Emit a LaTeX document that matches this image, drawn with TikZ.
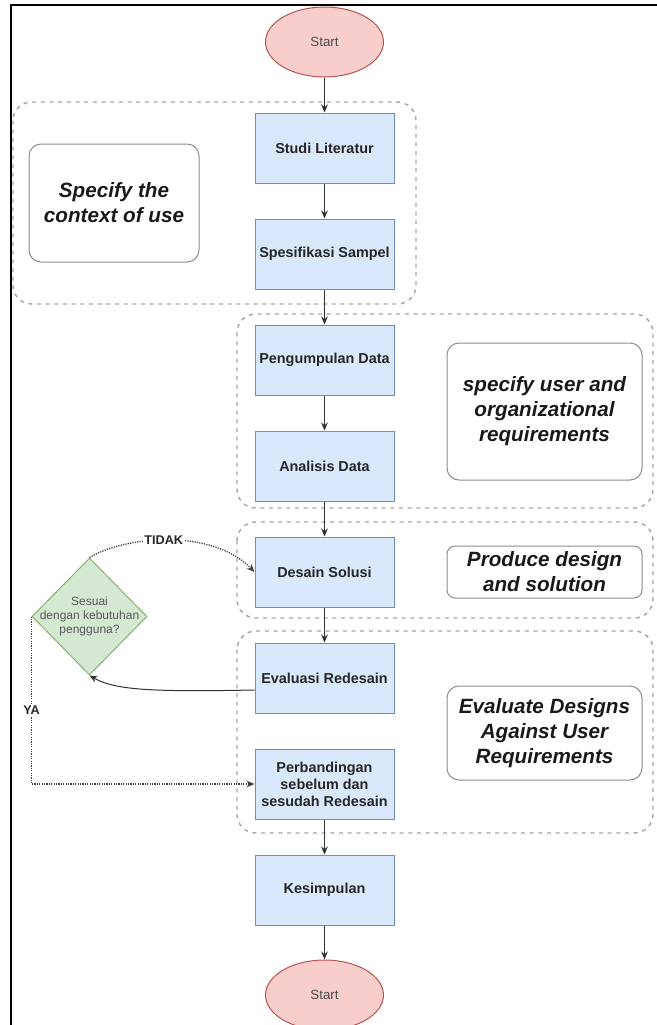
\documentclass[tikz,border=0pt]{standalone}
\usepackage{fontspec}
\setmainfont{Liberation Sans}
\usepackage{xcolor}
\usetikzlibrary{arrows.meta,shapes.geometric,positioning}
\definecolor{procfill}{HTML}{DAE8FC}
\definecolor{procdraw}{HTML}{6C8EBF}
\definecolor{termfill}{HTML}{F8CECC}
\definecolor{termdraw}{HTML}{B85450}
\definecolor{decfill}{HTML}{D5E8D4}
\definecolor{decdraw}{HTML}{82B366}
\tikzset{every picture/.style={line width=0.75pt}}
\tikzset{
proc/.style={draw=procdraw, fill=procfill, minimum width=104.25pt, minimum height=52.5pt, inner sep=0pt, align=center, text=black!85, font=\fontsize{10.8}{12.75}\selectfont\bfseries},
term/.style={ellipse, draw=termdraw, fill=termfill, minimum width=88.5pt, minimum height=52.5pt, inner sep=0pt, text=black!70, font=\fontsize{10}{12}\selectfont},
phase/.style={draw=black!45, rounded corners=9pt, inner sep=0pt, align=center, text=black!90, font=\fontsize{15.5}{18.75}\selectfont\bfseries\itshape},
grp/.style={draw=black!35, line width=1.1pt, dash pattern=on 3pt off 3.5pt, rounded corners=14pt},
flow/.style={draw=black!80, -{Stealth[length=6pt,width=5pt]}},
choice/.style={draw=black!75, line width=1pt, dash pattern=on 0.9pt off 0.9pt, -{Stealth[length=6pt,width=5pt]}},
answer/.style={fill=white, inner sep=1pt, text=black!85, font=\fontsize{9.5}{11}\selectfont\bfseries}
}

\begin{document}
\begin{tikzpicture}[x=0.75pt,y=0.75pt,yscale=-1,xscale=1]
\useasboundingbox (0,0) rectangle (657,1025);

%Straight Lines (frame)
\draw [line width=1.5pt] (11,1025) -- (11,5) -- (657,5) ;

%Rounded Rect (phase groups)
\draw [grp] (13,102) rectangle (416,304) ;
\draw [grp] (237,314) rectangle (653,508) ;
\draw [grp] (237,522) rectangle (653,618) ;
\draw [grp] (237,631) rectangle (653,833) ;

%Flowchart: Terminator
\draw (324.5,42) node (st1) [term] {Start};
\draw (324.5,995) node (st2) [term] {Start};

%Flowchart: Process
\draw (324.5,148) node (sl) [proc] {Studi Literatur};
\draw (324.5,254) node (ss) [proc] {Spesifikasi Sampel};
\draw (324.5,360) node (pd) [proc] {Pengumpulan Data};
\draw (324.5,466) node (ad) [proc] {Analisis Data};
\draw (324.5,572) node (ds) [proc] {Desain Solusi};
\draw (324.5,678) node (ev) [proc] {Evaluasi Redesain};
\draw (324.5,784) node (pb) [proc] {Perbandingan\\sebelum dan\\sesudah Redesain};
\draw (324.5,890) node (ks) [proc] {Kesimpulan};

%Flowchart: Decision
\draw (89.5,616.5) node (dec) [diamond, draw=decdraw, fill=decfill, minimum width=86.25pt, minimum height=87.75pt, inner sep=0pt,
  label={[align=center, text=black!65, font=\fontsize{9}{10.5}\selectfont]center:Sesuai\\dengan kebutuhan\\pengguna?}] {};

%Rounded Rect (phase labels)
\draw (114,203) node (ctx) [phase, minimum width=127.5pt, minimum height=88.5pt] {Specify the\\context of use};
\draw (544.5,411.5) node (usr) [phase, minimum width=146.25pt, minimum height=102.75pt] {specify user and\\organizational\\requirements};
\draw (544.5,572) node (prd) [phase, rounded corners=6pt, minimum width=146.25pt, minimum height=39pt] {Produce design\\and solution};
\draw (544.5,733) node (evd) [phase, minimum width=146.25pt, minimum height=70.5pt] {Evaluate Designs\\Against User\\Requirements};

%Straight Lines
\draw [flow] (st1) -- (sl) ;
\draw [flow] (sl) -- (ss) ;
\draw [flow] (ss) -- (pd) ;
\draw [flow] (pd) -- (ad) ;
\draw [flow] (ad) -- (ds) ;
\draw [flow] (ds) -- (ev) ;
\draw [flow] (pb) -- (ks) ;
\draw [flow] (ks) -- (st2) ;

%Curve Lines
\draw [flow] ([yshift=9pt]ev.west) .. controls (150,692) and (115,690) .. (dec.south) ;
\draw [choice] (dec.north) .. controls (125,536) and (212,528) .. (ds.west) node [answer, pos=0.47] {TIDAK} ;
\draw [choice] (dec.west) |- (pb.west) node [answer, pos=0.28] {YA} ;

\end{tikzpicture}
\end{document}
